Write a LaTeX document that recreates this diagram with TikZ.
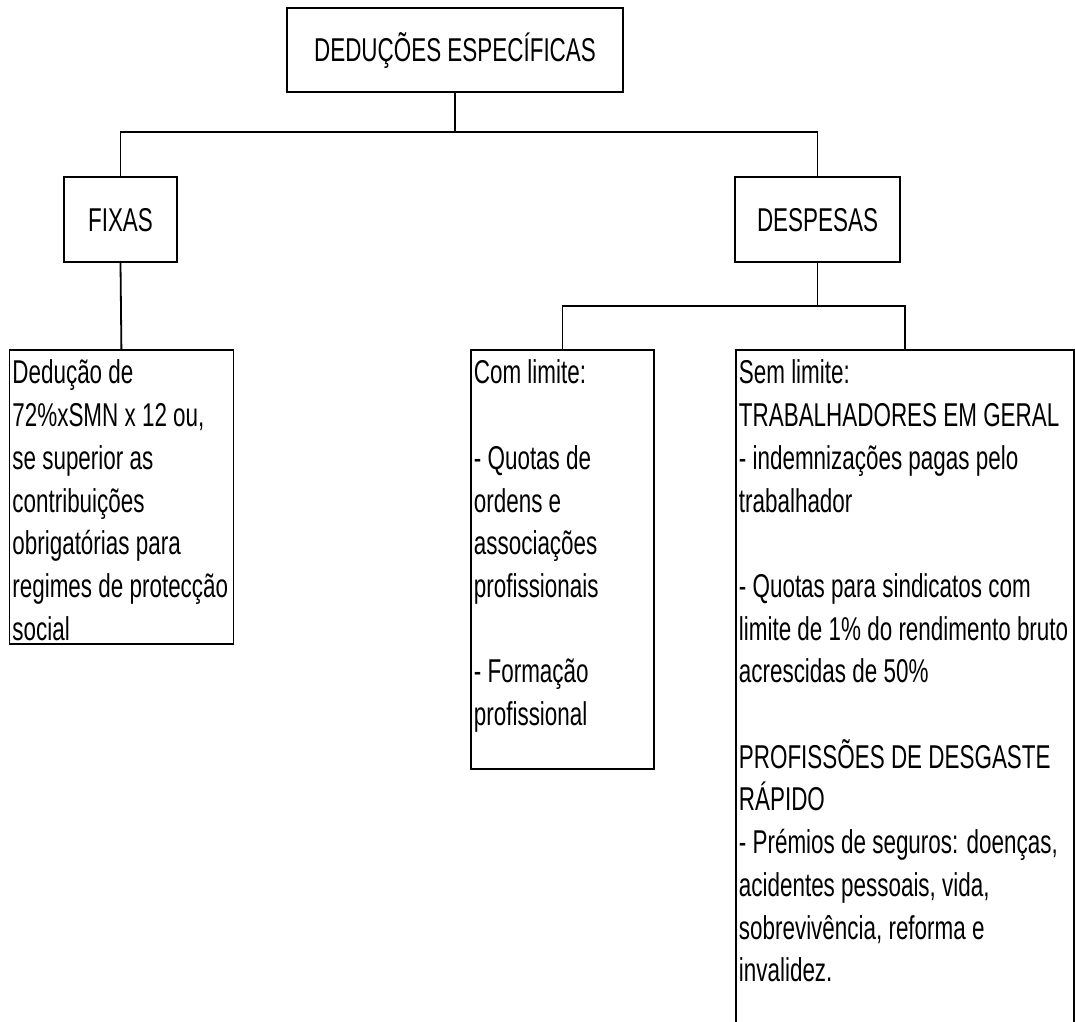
\documentclass[tikz,border=0pt]{standalone}
\usepackage{fontspec}
\setmainfont[FakeStretch=0.68]{Liberation Sans}
\usepackage{tikz}
\usetikzlibrary{positioning}

\begin{document}
\begin{tikzpicture}[x=1pt,y=-1pt,line width=1.8pt]
        \tikzstyle{head_node}=[draw=black,rectangle,inner sep=0pt,text height=23.6pt,text depth=0pt,font=\fontsize{33}{42.7}\selectfont]
        \tikzstyle{list_box}=[draw=black,rectangle,inner sep=0pt,anchor=north west]
        \tikzstyle{list_txt}=[inner sep=0pt,anchor=north west,align=left,font=\fontsize{33}{42.7}\selectfont]
        \useasboundingbox (0,0) rectangle (1075,1021);
        \clip (0,0) rectangle (1075,1021);

        \node[head_node,minimum width=336pt,minimum height=84pt]  (ded)   at (455,50)      {DEDUÇÕES ESPECÍFICAS};
        \node[head_node,minimum width=113pt,minimum height=85pt]  (fixas) at (120.5,219.5) {FIXAS};
        \node[head_node,minimum width=165pt,minimum height=85pt]  (desp)  at (817.5,219.5) {DESPESAS};

        \node[list_box,minimum width=224pt,minimum height=294pt]  (fix_box) at (8.5,349) {};
        \node[list_box,minimum width=183pt,minimum height=419pt]  (com_box) at (470,349) {};
        \node[list_box,minimum width=338pt,minimum height=720pt]  (sem_box) at (735,349) {};

    \node[list_txt] (fix_txt) at ([xshift=3pt]fix_box.north west)
        {\rule{0pt}{34pt}Dedução de\\72\%xSMN x 12 ou,\\se superior as\\contribuições\\obrigatórias para\\regimes de protecção\\social};
    \node[list_txt] (com_txt) at ([xshift=3pt]com_box.north west)
        {\rule{0pt}{34pt}Com limite:\\[42.7pt]- Quotas de\\ordens e\\associações\\profissionais\\[42.7pt]- Formação\\profissional};
    \node[list_txt] (sem_txt) at ([xshift=3pt]sem_box.north west)
        {\rule{0pt}{34pt}Sem limite:\\TRABALHADORES EM GERAL\\- indemnizações pagas pelo\\trabalhador\\[42.7pt]- Quotas para sindicatos com\\limite de 1\% do rendimento bruto\\acrescidas de 50\%\\[42.7pt]PROFISSÕES DE DESGASTE\\RÁPIDO\\- Prémios de seguros: doenças,\\acidentes pessoais, vida,\\sobrevivência, reforma e\\invalidez.};

    \draw (ded.south) -- ++(0,39) -| (fixas.north);
    \draw (ded.south) -- ++(0,39) -| (desp.north);
    \draw (fixas.south) -- (fix_box.north);
    \draw (desp.south) -- ++(0,43) -| (com_box.north);
    \draw (desp.south) -- ++(0,43) -| (sem_box.north);

    \end{tikzpicture}
\end{document}
